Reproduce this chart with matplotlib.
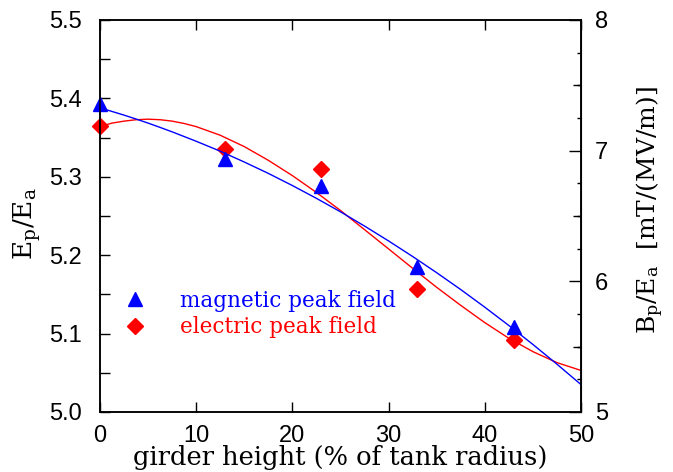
import matplotlib
matplotlib.use('Agg')
import matplotlib.pyplot as plt
from matplotlib.lines import Line2D
from matplotlib.ticker import MultipleLocator

# girder height in % of tank radius
height = [0, 13, 23, 33, 43]
e_peak = [5.365, 5.335, 5.310, 5.157, 5.092]   # Ep/Ea
b_peak = [7.36, 6.94, 6.73, 6.11, 5.65]        # Bp/Ea  [mT/(MV/m)]

# fitted curves
fit_x = [0, 1.25, 2.5, 3.75, 5, 6.25, 7.5, 8.75, 10, 12.5, 15, 17.5, 20, 22.5, 25,
         27.5, 30, 32.5, 35, 37.5, 40, 42.5, 45, 47.5, 50]
e_fit = [5.364, 5.3685, 5.371, 5.3728, 5.3735, 5.3728, 5.371, 5.368, 5.364, 5.353,
         5.3385, 5.321, 5.3015, 5.280, 5.257, 5.2326, 5.208, 5.1833, 5.159, 5.136,
         5.114, 5.094, 5.077, 5.063, 5.053]
b_fit = [7.328, 7.300, 7.272, 7.242, 7.211, 7.178, 7.144, 7.108, 7.072, 6.996,
         6.913, 6.826, 6.733, 6.635, 6.532, 6.423, 6.309, 6.190, 6.066, 5.937,
         5.802, 5.662, 5.517, 5.366, 5.210]

plt.rcParams['mathtext.fontset'] = 'dejavuserif'
tickfont = 'Liberation Sans'
labfont = 'DejaVu Serif'

fig = plt.figure(figsize=(6.73, 4.72), dpi=100)
ax = fig.add_axes([100/673, 1 - 412/472, 481/673, 392/472])
ax2 = ax.twinx()

ax.plot(fit_x, e_fit, color='red', lw=1.0)
ax.plot(height, e_peak, 'D', color='red', ms=8.5, clip_on=False)
ax2.plot(fit_x, b_fit, color='blue', lw=1.0)
ax2.plot(height, b_peak, '^', color='blue', ms=10, clip_on=False)

ax.set_xlim(0, 50)
ax.set_ylim(5.0, 5.5)
ax2.set_ylim(5, 8)

ax.xaxis.set_major_locator(MultipleLocator(10))
ax.yaxis.set_major_locator(MultipleLocator(0.1))
ax.yaxis.set_minor_locator(MultipleLocator(0.05))
ax.yaxis.set_major_formatter(plt.FormatStrFormatter('%.1f'))
ax2.yaxis.set_major_locator(MultipleLocator(1))
ax2.yaxis.set_minor_locator(MultipleLocator(0.25))

ax.tick_params(axis='x', which='major', direction='in', length=7, width=1,
               top=True, labelsize=17, pad=9)
ax.tick_params(axis='y', which='both', direction='in', length=7, width=1,
               right=False, labelsize=17, pad=13)
ax2.tick_params(axis='y', which='major', direction='in', length=8.5, width=1,
                labelsize=17, pad=10)
ax2.tick_params(axis='y', which='minor', direction='in', length=3, width=1)

# medium ticks at the half units of the right axis
sec = ax2.secondary_yaxis('right')
sec.set_yticks([5.5, 6.5, 7.5])
sec.tick_params(direction='in', length=5.5, width=1, labelright=False)

for lab in ax.get_xticklabels() + ax.get_yticklabels() + ax2.get_yticklabels():
    lab.set_fontfamily(tickfont)

for a in (ax, ax2):
    for s in a.spines.values():
        s.set_linewidth(1.1)

ax.set_xlabel('girder height (% of tank radius)', fontsize=18.5,
              family=labfont, labelpad=-1)
ax.set_ylabel(r'$\mathrm{E_p/E_a}$', fontsize=19, family=labfont)
ax.yaxis.set_label_coords(-0.118, 0.48)
ax2.set_ylabel(r'$\mathrm{B_p/E_a}$  [mT/(MV/m)]', fontsize=18, family=labfont)
ax2.yaxis.set_label_coords(1.112, 0.515)

handles = [Line2D([], [], ls='none', marker='^', color='blue', ms=10),
           Line2D([], [], ls='none', marker='D', color='red', ms=8.5)]
leg = ax.legend(handles, ['magnetic peak field', 'electric peak field'],
                loc='center left', bbox_to_anchor=(0.05, 0.25), frameon=False,
                handlelength=1.0, handletextpad=1.6, borderpad=0, borderaxespad=0,
                labelspacing=0.2, prop={'family': labfont, 'size': 15.5})
for t, c in zip(leg.get_texts(), ['blue', 'red']):
    t.set_color(c)

fig.savefig('out.png', dpi=100)
